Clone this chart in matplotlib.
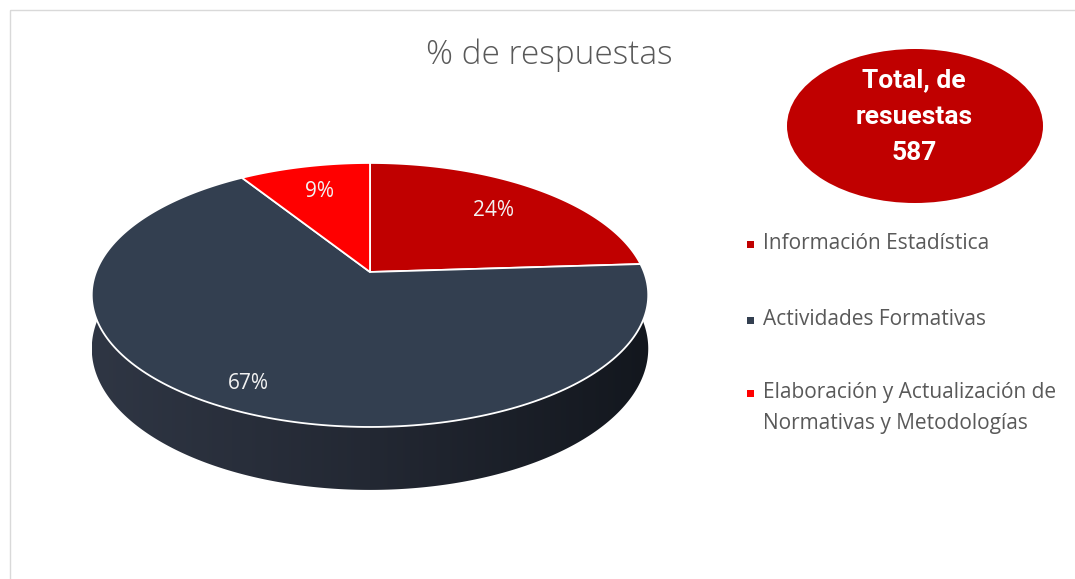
import numpy as np
import matplotlib
matplotlib.use("Agg")
import matplotlib.pyplot as plt
from matplotlib.patches import Polygon, Ellipse, Rectangle
from matplotlib.colors import LinearSegmentedColormap

# ---- data ----
categories = ["Información Estadística", "Actividades Formativas",
              "Elaboración y Actualización de\nNormativas y Metodologías"]
percentages = [24, 67, 9]
colors = ["#C00000", "#333F50", "#FF0000"]
title = "% de respuestas"
total_lines = ["Total, de", "resuestas", "587"]

# ---- figure ----
W, H = 1075, 579
fig = plt.figure(figsize=(W / 100, H / 100), dpi=100)
ax = fig.add_axes([0, 0, 1, 1])
ax.axis("off")

# outer chart border
ax.add_patch(Rectangle((10, 10), 1200, 700, fill=False, edgecolor="#d9d9d9", lw=1.0, zorder=0))

# perspective pie geometry
cx, cy, a, b, k, depth = 370, 272, 274, 128, 0.174, 52


def proj(r, theta):
    x = r * np.sin(theta)
    z = -r * np.cos(theta)
    den = 1 - k * z
    return cx + a * x / den, cy + b * z / den, den


# side wall (front half)
th = np.linspace(np.radians(80), np.radians(280), 400)
X, Y, D = proj(1.0, th)
Yb = Y + depth / D
wall = np.concatenate([np.column_stack([X, Y]), np.column_stack([X[::-1], Yb[::-1]])])
wall_poly = Polygon(wall, closed=True, facecolor="none", edgecolor="none")
ax.add_patch(wall_poly)
cmap = LinearSegmentedColormap.from_list("wall", ["#2f3644", "#232833", "#13171e"])
grad = np.linspace(0, 1, 256).reshape(1, -1)
im = ax.imshow(grad, cmap=cmap, extent=[X.min(), X.max(), Yb.max(), Y.min()],
               aspect="auto", zorder=1, interpolation="bilinear")
im.set_clip_path(wall_poly)

# top face wedges (clockwise from 12 o'clock)
fracs = np.array(percentages, dtype=float) / sum(percentages)
starts = np.concatenate([[0], np.cumsum(fracs)[:-1]]) * 2 * np.pi
ends = np.cumsum(fracs) * 2 * np.pi
for s, e, c in zip(starts, ends, colors):
    t = np.linspace(s, e, 200)
    px, py, _ = proj(1.0, t)
    pts = np.vstack([[cx, cy], np.column_stack([px, py])])
    ax.add_patch(Polygon(pts, closed=True, facecolor=c, edgecolor="white", lw=1.3,
                         joinstyle="round", zorder=3))

# data labels
label_r = [0.72, 0.85, 0.74]
for s, e, p, r in zip(starts, ends, percentages, label_r):
    m = (s + e) / 2
    lx, ly, _ = proj(r, m)
    ax.text(lx, ly, f"{p}%", ha="center", va="center", color="#f2f2f2",
            fontsize=15, family="Open Sans", zorder=5)

# title
ax.text(549, 55, title, ha="center", va="center", color="#595959",
        fontsize=24, family="Open Sans", fontweight="light")

# total oval
ax.add_patch(Ellipse((915, 126), 256, 154, facecolor="#C00000", edgecolor="none", zorder=2))
for i, line in enumerate(total_lines):
    ax.text(914, 80 + 36.5 * i, line, ha="center", va="center", color="white",
            fontsize=19, family="Roboto", fontweight="bold", zorder=4)

# legend
leg_y = [244, 320, 393]
for yy, cat, c in zip(leg_y, categories, colors):
    ax.add_patch(Rectangle((746.5, yy - 3.5), 7, 7, facecolor=c, edgecolor="none"))
    ax.text(763, yy - 11, cat, ha="left", va="top", color="#595959",
            fontsize=15, family="Open Sans", linespacing=1.6)

ax.set_xlim(0, W)
ax.set_ylim(H, 0)
fig.savefig("out.png", dpi=100, facecolor="white")
